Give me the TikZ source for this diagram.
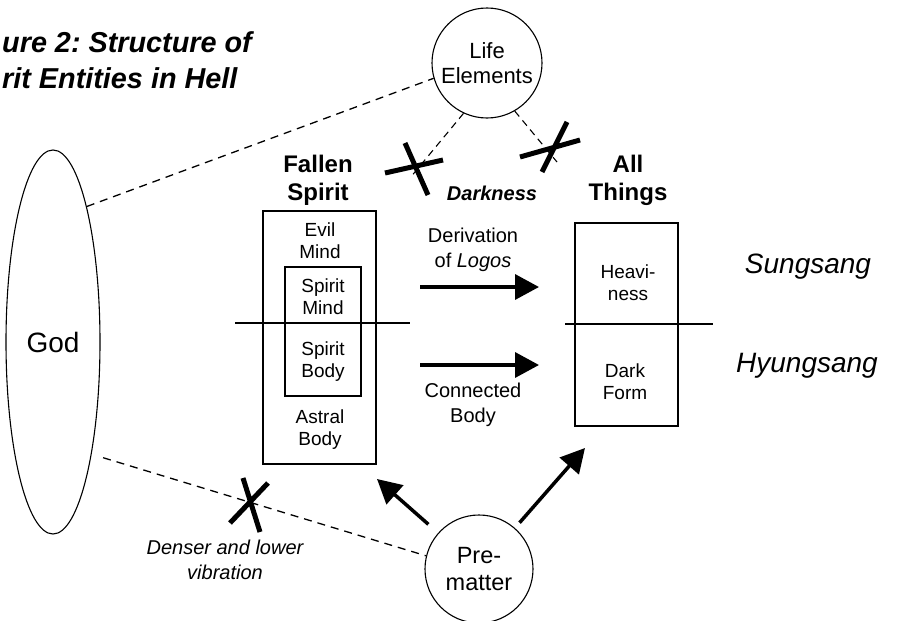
\documentclass[tikz,border=0pt]{standalone}
\usepackage{fontspec}
\setmainfont{Liberation Sans}
\frenchspacing
\usetikzlibrary{arrows.meta,shapes.geometric,positioning}
\tikzset{
  txt/.style={align=center,inner sep=0pt,font=\fontsize{19}{22}\selectfont},
  note/.style={align=center,inner sep=0pt,font=\fontsize{20}{25}\selectfont},
  ttl/.style={align=center,inner sep=0pt,font=\bfseries\fontsize{24}{28}\selectfont},
  side/.style={inner sep=0pt,font=\itshape\fontsize{28}{32}\selectfont},
  body/.style={draw,line width=1.1pt,inner sep=0pt},
  ring/.style={circle,draw,line width=1.1pt,inner sep=0pt,align=center},
  push/.style={-{Triangle[length=24pt,width=25pt]},line width=3.5pt},
  link/.style={dash pattern=on 8pt off 6pt,line width=1.3pt},
  xmark/.style={line width=5pt}
}
\begin{document}
\begin{tikzpicture}[x=1pt,y=-1pt]
  \useasboundingbox (0,0) rectangle (897,621);
  % caption, cut off at the left edge
  \node[ttl,font=\bfseries\itshape\fontsize{28.8}{36}\selectfont,anchor=west] (cap1) at (2,42) {ure 2: Structure of};
  \node[ttl,font=\bfseries\itshape\fontsize{28.8}{36}\selectfont,anchor=west] (cap2) at (2,78) {rit Entities in Hell};
  % God, life elements, pre-matter
  \node[body,ellipse,minimum width=94pt,minimum height=384pt,font=\fontsize{28}{32}\selectfont] (god) at (53,342) {God};
  \node[ring,minimum size=110pt,font=\fontsize{22}{25}\selectfont] (life) at (487,63) {Life\\Elements};
  \node[ring,minimum size=108pt,font=\fontsize{23.5}{27}\selectfont] (pre) at (479,569) {Pre-\\matter};
  % fallen spirit
  \node[ttl] (fshead) at (318,180) {Fallen\\Spirit};
  \node[body,minimum width=113pt,minimum height=253pt] (fs) at (319.5,337.5) {};
  \node[body,minimum width=76pt,minimum height=129pt] (core) at (323,331.5) {};
  \node[txt] (evil) at (320,241) {Evil\\Mind};
  \node[txt] (smind) at (323,297) {Spirit\\Mind};
  \node[txt] (sbody) at (323,362) {Spirit\\Body};
  \node[txt] (astral) at (320,430) {Astral\\Body};
  \draw[line width=1.1pt] (235,323) -- (410,323);
  % all things
  \node[ttl] (athead) at (628,180) {All\\Things};
  \node[body,minimum width=103pt,minimum height=203pt] (at) at (626.5,324.5) {};
  \node[txt] (heavy) at (628,283) {Heavi-\\ness};
  \node[txt] (dark) at (625,382) {Dark\\Form};
  \draw[line width=1.1pt] (565,324) -- (713,324);
  \node[side] (sung) at (808,267) {Sungsang};
  \node[side] (hyung) at (807,366) {Hyungsang};
  % middle
  \node[note,font=\bfseries\itshape\fontsize{20}{25}\selectfont] (dk) at (492,193) {Darkness};
  \node[note] (logos) at (473,250) {Derivation\\of \textit{Logos}};
  \node[note] (conn) at (473,405) {Connected\\Body};
  \coordinate (d1) at (420,287); \coordinate (d2) at (539,287);
  \coordinate (c1) at (420,365); \coordinate (c2) at (539,365);
  \draw[push] (d1) -- (d2);
  \draw[push] (c1) -- (c2);
  \coordinate (fsfoot) at (377,479);
  \coordinate (atfoot) at (585,448);
  \draw[push,shorten <=13pt] (pre) -- (fsfoot);
  \draw[push,shorten <=7pt] (pre) -- (atfoot);
  % dashed links and crosses
  \coordinate (xl) at (415,166);
  \coordinate (xr) at (554,147);
  \coordinate (xb) at (250,501);
  \coordinate (xlend) at (410,178);
  \coordinate (xrend) at (557,162);
  \draw[link] (god.76) -- (life.196);
  \draw[link,shorten <=12pt] (god.-71) -- (pre.166);
  \draw[link,dash pattern=on 7pt off 5pt,line width=1.1pt] (life.245) -- (xlend);
  \draw[link,dash pattern=on 7pt off 5pt,line width=1.1pt] (life.-60) -- (xrend);
  \draw[xmark] (xl) +(-30,7) -- +(28,-6) +(-10,-23) -- +(13,29);
  \draw[xmark] (xr) +(-34,10) -- +(26,-7) +(13,-25) -- +(-12,25);
  \draw[xmark] (xb) +(-7,-23) -- +(10,31) +(-20,22) -- +(18,-18);
  \node[note,font=\itshape\fontsize{20}{25}\selectfont] (dense) at (225,560) {Denser and lower\\vibration};
\end{tikzpicture}
\end{document}
